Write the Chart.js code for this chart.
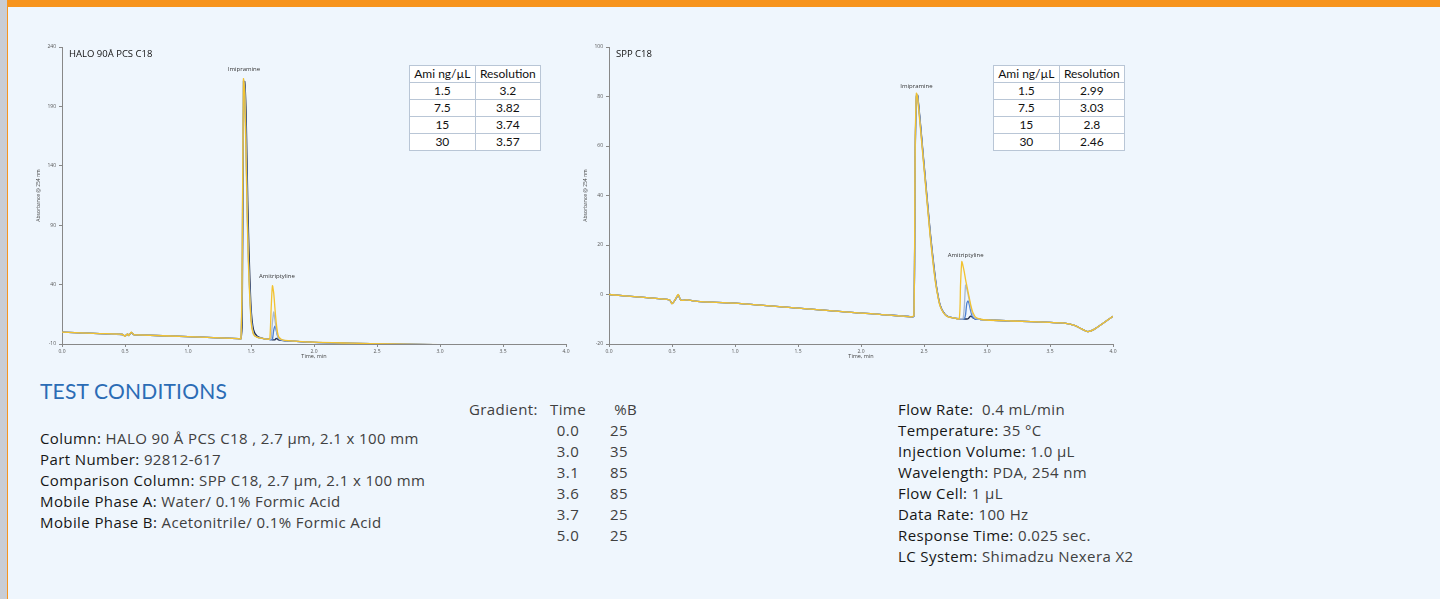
<!DOCTYPE html>
<html>
<head>
<meta charset="utf-8">
<script src="https://cdn.jsdelivr.net/npm/chart.js@4.4.0/dist/chart.umd.min.js"></script>
<style>
  html, body { margin: 0; padding: 0; }
  body { width: 1440px; height: 599px; position: relative; overflow: hidden;
         background: linear-gradient(to right, #c9cdd5, #e4e7ec); font-family: "Open Sans", sans-serif; }
  #panel { position: absolute; left: 7px; top: 0; width: 1433px; height: 599px; background: #eff6fd;
           border-left: 1px solid #f7941d; border-top: 7px solid #f7941d; box-sizing: border-box; }
  .cv { position: absolute; }
  .restab { position: absolute; border-collapse: collapse; background: #fff; font-family: Lato, sans-serif;
            font-size: 12px; color: #111; }
  .restab td { border: 1px solid #b9c6d6; text-align: center; height: 16px; padding: 0 3px; line-height: 16px; }
  .txt { position: absolute; font-size: 15px; letter-spacing: 0.4px; color: #404040; line-height: 21px; white-space: nowrap; }
  .txt b { font-weight: normal; color: #161616; }
  h2 { position: absolute; left: 40px; top: 378px; margin: 0; font-family: Lato, sans-serif; font-weight: normal;
       font-size: 21px; color: #2b6cb5; letter-spacing: 0.2px; }
</style>
</head>
<body>
<div id="panel"></div>

<canvas id="halo" class="cv" width="560" height="330" style="left:20px;top:40px;width:560px;height:330px"></canvas>
<canvas id="spp" class="cv" width="560" height="330" style="left:567px;top:40px;width:560px;height:330px"></canvas>

<table class="restab" id="tabHalo" style="left:409px;top:65px;width:132px"></table>
<table class="restab" id="tabSpp" style="left:993px;top:65px;width:132px"></table>

<h2>TEST CONDITIONS</h2>
<div class="txt" style="left:40px;top:428px">
  <b>Column:</b> HALO 90 Å PCS C18 , 2.7 µm, 2.1 x 100 mm<br>
  <b>Part Number:</b> 92812-617<br>
  <b>Comparison Column:</b> SPP C18, 2.7 µm, 2.1 x 100 mm<br>
  <b>Mobile Phase A:</b> Water/ 0.1% Formic Acid<br>
  <b>Mobile Phase B:</b> Acetonitrile/ 0.1% Formic Acid
</div>
<div class="txt" style="left:469px;top:399px">Gradient:</div>
<div class="txt" id="gradTimeCol" style="left:545px;top:399px;width:46px;text-align:center"></div>
<div class="txt" id="gradBCol" style="left:610px;top:399px"></div>
<div class="txt" style="left:898px;top:399px">
  <b>Flow Rate:</b>&nbsp; 0.4 mL/min<br>
  <b>Temperature:</b> 35 °C<br>
  <b>Injection Volume:</b> 1.0 µL<br>
  <b>Wavelength:</b> PDA, 254 nm<br>
  <b>Flow Cell:</b> 1 µL<br>
  <b>Data Rate:</b> 100 Hz<br>
  <b>Response Time:</b> 0.025 sec.<br>
  <b>LC System:</b> Shimadzu Nexera X2
</div>

<script>
// concentrations (Ami ng/uL) and line colours
const concentrations = ['1.5', '7.5', '15', '30'];
const seriesColors = ['#1f2b4a', '#4a7fd0', '#a9b9cf', '#f2c230'];

// resolution tables
const haloResolution = ['3.2', '3.82', '3.74', '3.57'];
const sppResolution = ['2.99', '3.03', '2.8', '2.46'];

// gradient program
const gradTime = ['0.0', '3.0', '3.1', '3.6', '3.7', '5.0'];
const gradB = ['25', '35', '85', '85', '25', '25'];

// axis ticks
const xTicks = [0, 0.5, 1.0, 1.5, 2.0, 2.5, 3.0, 3.5, 4.0];
const haloYTicks = [-10, 40, 90, 140, 190, 240];
const sppYTicks = [-20, 0, 20, 40, 60, 80, 100];

// HALO 90A PCS C18 chromatograms (time, min / absorbance)
const haloTime = [0, 0.3, 0.48, 0.5, 0.52, 0.53, 0.55, 0.57, 0.6, 1.0, 1.4, 1.42, 1.43, 1.44, 1.45, 1.46, 1.47, 1.48, 1.5, 1.52,
  1.55, 1.6, 1.64, 1.65, 1.66, 1.67, 1.68, 1.69, 1.7, 1.71, 1.72, 1.74, 1.77, 2.0, 2.3, 2.6, 3.0, 4.0];
const halo1_5 = [0, -1.2, -2, -3.2, -1.8, -2.8, -0.5, -2.2, -2.3, -3.8, -5.5, -5.6, 8, 175, 211, 190, 135, 85, 22, 2,
  -3.5, -5.5, -6, -6.2, -6.3, -6.5, -6.6, -6.5, -5.3, -5.8, -6.6, -7, -7.3, -8.6, -9.4, -10.1, -10.6, -11];
const halo7_5 = [0, -1.2, -2, -3.4, -1.6, -2.9, -0.3, -2.2, -2.3, -3.8, -5.5, -5.6, 45, 211, 203, 160, 105, 62, 14, -1,
  -4.3, -5.5, -6, -6.2, -6.3, -6, 1.5, 5, 1.5, -3, -5.5, -6.6, -7.2, -8.6, -9.4, -10.1, -10.6, -11];
const halo15 = [0, -1.2, -2, -3.4, -1.6, -2.9, -0.3, -2.2, -2.3, -3.8, -5.5, -5.6, 50, 212, 205, 162, 104, 60, 13, -1.5,
  -4.3, -5.5, -6, -6.1, -5.5, 8, 17, 10, 3, -2.5, -5.2, -6.5, -7.1, -8.6, -9.4, -10.1, -10.6, -11];
const halo30 = [0, -1.2, -2, -3.5, -1.5, -3, 0, -2.2, -2.3, -3.8, -5.5, -5.6, 60, 213, 200, 152, 97, 56, 10, -2,
  -4.5, -5.5, -6, -5, 20, 39, 33, 20, 8, 0, -4, -6, -7, -8.5, -9.3, -10, -10.5, -10.8];

// SPP C18 chromatograms
const sppTime = [0, 0.3, 0.48, 0.5, 0.52, 0.55, 0.57, 0.62, 0.7, 1.0, 1.5, 2.0, 2.15, 2.4, 2.42, 2.43, 2.44, 2.45, 2.5, 2.55,
  2.58, 2.6, 2.63, 2.68, 2.75, 2.78, 2.79, 2.8, 2.81, 2.82, 2.83, 2.84, 2.85, 2.86, 2.87, 2.88, 2.89, 2.91, 2.95, 3.0,
  3.2, 3.5, 3.6, 3.7, 3.75, 3.8, 3.85, 4.0];
const spp1_5 = [0, -1.3, -2.2, -3.6, -2.6, -0.3, -2.3, -2.2, -2.8, -3.5, -5.5, -7.5, -8, -9, -8.8, 55, 80, 80.5, 53, 25,
  11, 3, -4.5, -8.6, -9.6, -9.8, -9.8, -9.8, -9.9, -9.9, -9.9, -9.9, -9.8, -9.2, -8.7, -9, -9.5, -9.9, -10.1, -10.3,
  -10.7, -11.3, -11.5, -12.6, -13.9, -15, -14.1, -8.8];
const spp7_5 = [0, -1.3, -2.2, -3.7, -2.5, -0.2, -2.3, -2.2, -2.8, -3.5, -5.5, -7.5, -8, -9, -8.8, 56, 80.5, 80, 52, 24,
  10, 2.5, -4.8, -8.7, -9.6, -9.8, -9.8, -9.8, -9.9, -9.9, -8, -3.5, -2.6, -4.2, -6.5, -8.5, -9.4, -9.9, -10.1, -10.3,
  -10.7, -11.3, -11.5, -12.6, -13.9, -15, -14.1, -8.8];
const spp15 = [0, -1.3, -2.2, -3.7, -2.5, -0.2, -2.3, -2.2, -2.8, -3.5, -5.5, -7.5, -8, -9, -8.8, 57, 81, 79.5, 52, 24,
  10, 2.5, -4.8, -8.7, -9.6, -9.8, -9.8, -9.8, -9.8, -5, 3.8, 2.2, 0, -2.5, -5, -7, -8.5, -9.7, -10.1, -10.3,
  -10.7, -11.3, -11.5, -12.6, -13.9, -15, -14.1, -8.8];
const spp30 = [0, -1.3, -2.2, -3.8, -2.5, 0, -2.3, -2.2, -2.8, -3.5, -5.5, -7.5, -8, -9, -8.5, 60, 81.3, 79, 51, 23,
  9, 2, -5, -8.8, -9.6, -9.8, 4, 13.3, 11.5, 9, 6, 3.5, 1, -1.5, -4, -6, -7.5, -9.2, -10, -10.3,
  -10.7, -11.3, -11.5, -12.6, -13.9, -15, -14.1, -8.8];

// peak labels
const haloPeaks = [{ text: 'Imipramine', x: 1.444, y: 221 }, { text: 'Amitriptyline', x: 1.706, y: 47 }];
const sppPeaks = [{ text: 'Imipramine', x: 2.44, y: 84 }, { text: 'Amitriptyline', x: 2.83, y: 16 }];

function fillTable(id, values) {
  const t = document.getElementById(id);
  let html = '<tr><td>Ami ng/µL</td><td>Resolution</td></tr>';
  concentrations.forEach((c, i) => { html += '<tr><td>' + c + '</td><td>' + values[i] + '</td></tr>'; });
  t.innerHTML = html;
}
fillTable('tabHalo', haloResolution);
fillTable('tabSpp', sppResolution);

document.getElementById('gradTimeCol').innerHTML = ['Time'].concat(gradTime).join('<br>');
document.getElementById('gradBCol').innerHTML = ['&nbsp;%B'].concat(gradB).join('<br>');

const peakLabelPlugin = {
  id: 'peakLabels',
  afterDatasetsDraw(chart, args, opts) {
    const ctx = chart.ctx;
    ctx.save();
    ctx.font = '6px "Open Sans", sans-serif';
    ctx.fillStyle = '#333';
    ctx.textAlign = 'center';
    ctx.textBaseline = 'middle';
    (opts.items || []).forEach(p => {
      ctx.fillText(p.text, chart.scales.x.getPixelForValue(p.x), chart.scales.y.getPixelForValue(p.y));
    });
    ctx.font = '9.5px "Open Sans", sans-serif';
    ctx.fillStyle = '#111';
    ctx.textAlign = 'left';
    ctx.fillText(opts.title, chart.chartArea.left + 7, chart.chartArea.top + 7);
    ctx.restore();
  }
};

function makeChart(id, title, times, seriesList, yMin, yMax, yTicks, peaks) {
  // yellow (highest concentration) on top, dark navy at the back
  const datasets = seriesList.map((vals, i) => ({
    label: concentrations[i],
    data: times.map((t, j) => ({ x: t, y: vals[j] })),
    borderColor: seriesColors[i],
    borderWidth: 1.3,
    pointRadius: 0,
    tension: 0.25,
    fill: false,
    order: seriesList.length - i
  }));
  const tickFont = { size: 5, family: '"Open Sans", sans-serif' };
  new Chart(document.getElementById(id), {
    type: 'line',
    data: { datasets: datasets },
    plugins: [peakLabelPlugin],
    options: {
      responsive: false,
      animation: false,
      layout: { padding: { top: 7, right: 14, left: 0, bottom: 10 } },
      plugins: { legend: { display: false }, tooltip: { enabled: false }, peakLabels: { items: peaks, title: title } },
      scales: {
        x: {
          type: 'linear', min: 0, max: 4,
          afterBuildTicks: s => { s.ticks = xTicks.map(v => ({ value: v })); },
          afterFit: s => { s.height = 16; },
          ticks: { font: tickFont, color: '#555', padding: 2, maxRotation: 0, callback: v => Number(v).toFixed(1) },
          grid: { drawOnChartArea: false, drawTicks: true, tickLength: 3, color: '#888' },
          border: { color: '#888' },
          title: { display: true, text: 'Time, min', font: { size: 5.5, family: '"Open Sans", sans-serif' }, color: '#444', padding: 0 }
        },
        y: {
          min: yMin, max: yMax,
          afterBuildTicks: s => { s.ticks = yTicks.map(v => ({ value: v })); },
          afterFit: s => { s.width = 42; },
          ticks: { font: tickFont, color: '#555', padding: 3 },
          grid: { drawOnChartArea: false, drawTicks: true, tickLength: 3, color: '#888' },
          border: { color: '#888' },
          title: { display: true, text: 'Absorbance @ 254 nm', font: { size: 5, family: '"Open Sans", sans-serif' }, color: '#444', padding: { top: 16, bottom: 0 } }
        }
      }
    }
  });
}

makeChart('halo', 'HALO 90Å PCS C18', haloTime, [halo1_5, halo7_5, halo15, halo30], -10, 240, haloYTicks, haloPeaks);
makeChart('spp', 'SPP C18', sppTime, [spp1_5, spp7_5, spp15, spp30], -20, 100, sppYTicks, sppPeaks);
</script>
</body>
</html>
